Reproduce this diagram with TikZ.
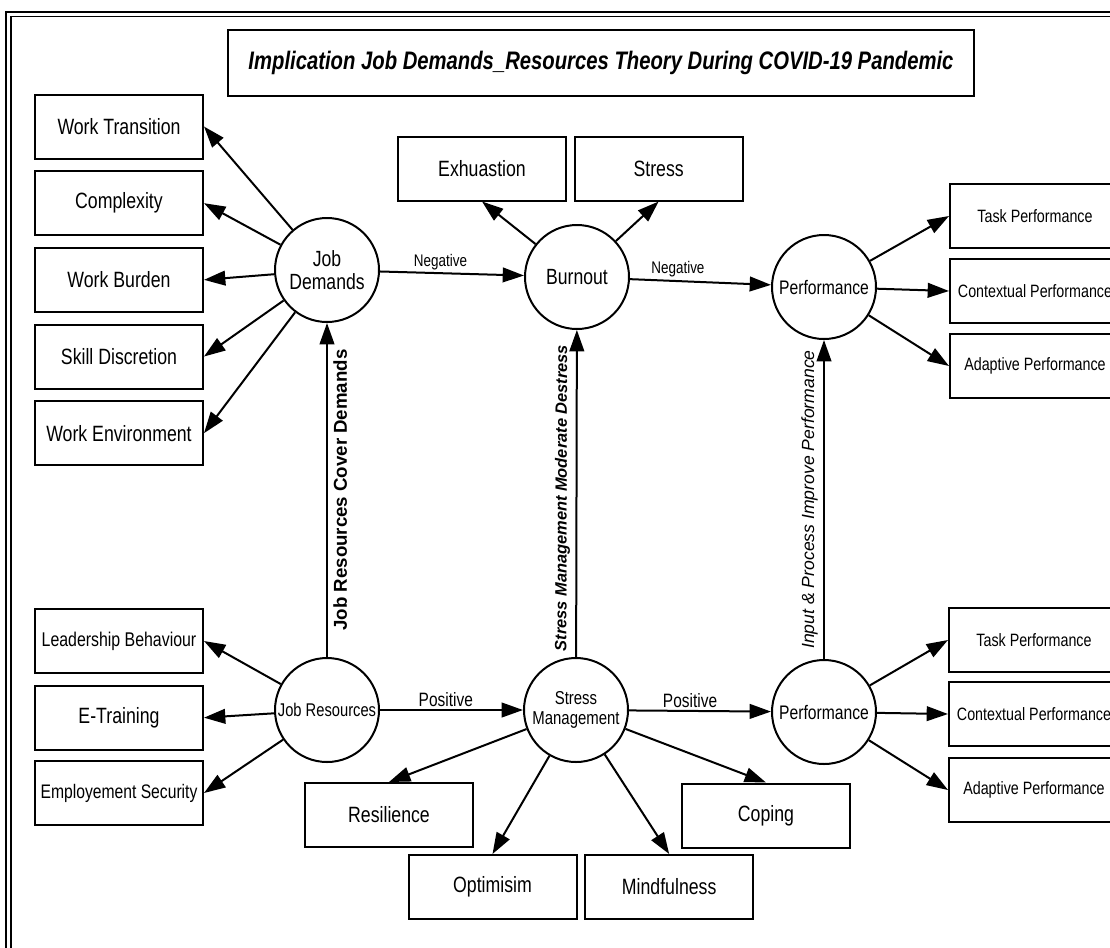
\documentclass[tikz,border=0pt]{standalone}
\usepackage{fontspec}
\setmainfont{Liberation Sans}[FakeStretch=0.8]
\newfontfamily\widesans{Liberation Sans}
\usetikzlibrary{arrows.meta,positioning}

\begin{document}
\begin{tikzpicture}[x=0.75pt,y=-0.75pt,
	latent/.style={circle,draw,line width=1.5pt,align=center,inner sep=1pt,minimum size=78pt,fill=white,font=\fontsize{16.5}{17}\selectfont},
	manifest/.style={rectangle,draw,line width=1.5pt,align=center,inner sep=2pt,minimum width=126pt,minimum height=48pt,font=\fontsize{16.6}{18}\selectfont},
	manifestR/.style={manifest,minimum width=127.5pt,font=\fontsize{13.4}{15}\selectfont},
	heading/.style={rectangle,draw,line width=1.5pt,minimum width=560pt,minimum height=50pt,font=\fontsize{19}{21}\selectfont\bfseries\itshape},
	sign/.style={inner sep=2pt,font=\fontsize{12.6}{14}\selectfont},
	along/.style={sloped,inner sep=4pt},
	paths/.style={-{Triangle[length=16pt,width=11pt]},line width=1.5pt}
	]
\useasboundingbox (0,0) rectangle (1110,947);
\clip (0,0) rectangle (1110,947);

% frame
\draw[line width=1.6pt] (6,12) rectangle (1130,970);
\draw[line width=1pt] (11,16.5) rectangle (1125,965);

% title
\node [heading] at (601,63) (title) {Implication Job Demands\_Resources Theory During COVID-19 Pandemic};

% demands side
\node [latent] at (327,270) (jd) {Job\\Demands};
\node [manifest] at (119,126.5) (wt) {Work Transition};
\node [manifest] [below = 8pt of wt] (cx) {Complexity};
\node [manifest] [below = 8pt of cx] (wb) {Work Burden};
\node [manifest] [below = 8pt of wb] (sd) {Skill Discretion};
\node [manifest] [below = 8pt of sd] (we) {Work Environment};

\node [latent] at (577,277) (burn) {Burnout};
\node [manifest] at (482,168.5) (exh) {Exhuastion};
\node [manifest] [right = 5pt of exh] (str) {Stress};

\node [latent, font=\fontsize{14.7}{16}\selectfont] at (824,287) (perfA) {Performance};
\node [manifestR] at (1035,216) (taskA) {Task Performance};
\node [manifestR] [below = 6.75pt of taskA] (contA) {Contextual Performance};
\node [manifestR] [below = 6.75pt of contA] (adapA) {Adaptive Performance};

% resources side
\node [latent, font=\fontsize{13.8}{15}\selectfont] at (327,710) (jr) {Job Resources};
\node [manifest, font=\fontsize{14.9}{16}\selectfont] at (119,641) (lead) {Leadership Behaviour};
\node [manifest] [below = 8pt of lead] (etr) {E-Training};
\node [manifest, font=\fontsize{14.7}{16}\selectfont] [below = 7pt of etr] (emp) {Employement Security};

\node [latent, font=\fontsize{14}{15}\selectfont] at (576,710) (sm) {Stress\\Management};
\node [manifest] at (389,815) (res) {Resilience};
\node [manifest] at (492.5,887) (opt) {Optimisim};
\node [manifest] [right = 5pt of opt] (mind) {Mindfulness};
\node [manifest] at (766,815.5) (cop) {Coping};

\node [latent, font=\fontsize{14.7}{16}\selectfont] at (824,712) (perfB) {Performance};
\node [manifestR] at (1034,640) (taskB) {Task Performance};
\node [manifestR] [below = 6pt of taskB] (contB) {Contextual Performance};
\node [manifestR] [below = 7.5pt of contB] (adapB) {Adaptive Performance};

% paths
\draw[paths] (jd) -- (wt.east);
\draw[paths] (jd) -- (cx.east);
\draw[paths] (jd) -- (wb.east);
\draw[paths] (jd) -- (sd.east);
\draw[paths] (jd) -- (we.east);

\draw[paths] (burn) -- (exh.south);
\draw[paths] (burn) -- (str.south);

\draw[paths] (perfA) -- (taskA.west);
\draw[paths] (perfA) -- (contA.west);
\draw[paths] (perfA) -- (adapA.west);

\draw[paths] (jr) -- (lead.east);
\draw[paths] (jr) -- (etr.east);
\draw[paths] (jr) -- (emp.east);

\draw[paths] (sm) -- (res.north);
\draw[paths] (sm) -- (opt.north);
\draw[paths] (sm) -- (mind.north);
\draw[paths] (sm) -- (cop.north);

\draw[paths] (perfB) -- (taskB.west);
\draw[paths] (perfB) -- (contB.west);
\draw[paths] (perfB) -- (adapB.west);

% main chain
\draw[paths] (jd) -- node[sign, above, pos=0.42] {Negative} (burn);
\draw[paths] (burn) -- node[sign, above, pos=0.34] {Negative} (perfA);
\draw[paths] (jr) -- node[sign, above, pos=0.46, font=\fontsize{14.5}{16}\selectfont] {Positive} (sm);
\draw[paths] (sm) -- node[sign, above, pos=0.43, font=\fontsize{14.5}{16}\selectfont] {Positive} (perfB);

\draw[paths] (jr) -- node[along, below, pos=0.5, font=\widesans\fontsize{14}{16}\selectfont\bfseries] {Job Resources Cover Demands} (jd);
\draw[paths] (sm) -- node[along, above, pos=0.486, font=\widesans\fontsize{12.3}{14}\selectfont\bfseries\itshape] {Stress Management Moderate Destress} (burn);
\draw[paths] (perfB) -- node[along, above, pos=0.5, font=\widesans\fontsize{13.2}{15}\selectfont\itshape] {Input \& Process Improve Performance} (perfA);

\end{tikzpicture}
\end{document}
